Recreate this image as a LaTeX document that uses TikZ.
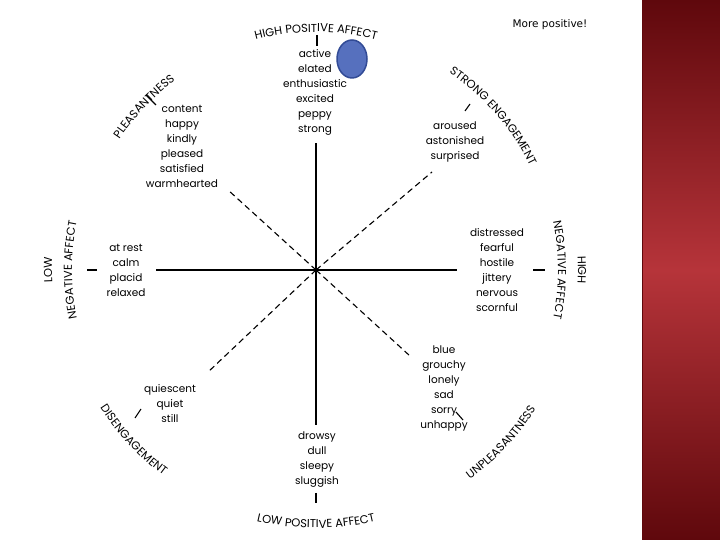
\documentclass[tikz,border=0pt]{standalone}
\usepackage{fontspec}
\setmainfont{Poppins}
\newfontfamily\notefont{DejaVu Sans}
\usetikzlibrary{decorations.text,shapes.geometric}
\definecolor{dotblue}{RGB}{86,112,190}
\definecolor{dotedge}{RGB}{50,75,150}
\definecolor{stripdark}{RGB}{95,8,12}
\definecolor{stripmid}{RGB}{182,52,58}
\newcommand{\capfont}{\fontsize{11.5}{12}\selectfont}
\begin{document}
\begin{tikzpicture}[x=1pt,y=1pt,line width=1.1pt]
    \tikzset{
        wordlist/.style = {align=center,font=\fontsize{10.5}{15}\selectfont,inner sep=0pt},
        axis/.style = {draw=black},
        diag/.style = {draw=black,dash pattern=on 6pt off 4pt},
    }
    \useasboundingbox (0,0) rectangle (720,540);
    \fill[white] (0,0) rectangle (720,540);
    % side strip
    \shade[top color=stripdark,bottom color=stripdark,middle color=stripmid] (642,0) rectangle (720,540);
    \draw[stripdark,line width=1pt] (642.5,0) -- (642.5,540);
    \node[font=\notefont\fontsize{10.5}{12}\selectfont] (note) at (550,515) {More positive!};
    % word lists
    \coordinate (C) at (316,270);
    \node[wordlist] (hpa) at (315,448) {active\\elated\\enthusiastic\\excited\\peppy\\strong};
    \node[wordlist] (se) at (455,398) {aroused\\astonished\\surprised};
    \node[wordlist] (hna) at (497,270) {distressed\\fearful\\hostile\\jittery\\nervous\\scornful};
    \node[wordlist] (unp) at (444,152) {blue\\grouchy\\lonely\\sad\\sorry\\unhappy};
    \node[wordlist] (lpa) at (317,80) {drowsy\\dull\\sleepy\\sluggish};
    \node[wordlist] (dis) at (170,136) {quiescent\\quiet\\still};
    \node[wordlist] (lna) at (126,270) {at rest\\calm\\placid\\relaxed};
    \node[wordlist] (ple) at (182,394) {content\\happy\\kindly\\pleased\\satisfied\\warmhearted};
    % axes
    \coordinate (up) at (316,397);
    \coordinate (down) at (316,115);
    \coordinate (left) at (156,270);
    \coordinate (right) at (457,270);
    \draw[axis] (C) -- (up);
    \draw[axis] (C) -- (down);
    \draw[axis] (C) -- (left);
    \draw[axis] (C) -- (right);
    \coordinate (ul) at (228,350);
    \coordinate (ur) at (432,368);
    \coordinate (dl) at (207,167);
    \coordinate (dr) at (410,184);
    \draw[diag] (C) -- (ul);
    \draw[diag] (C) -- (ur);
    \draw[diag] (C) -- (dl);
    \draw[diag] (C) -- (dr);
    \fill (C) circle (2.2pt);
    % ticks
    \coordinate (t1a) at (317,505); \coordinate (t1b) at (317,494);
    \coordinate (t2a) at (316,47);  \coordinate (t2b) at (316,37);
    \coordinate (t3a) at (87,270);  \coordinate (t3b) at (97,270);
    \coordinate (t4a) at (533,270); \coordinate (t4b) at (545,270);
    \coordinate (t5a) at (146,445); \coordinate (t5b) at (156,435);
    \coordinate (t6a) at (465,429); \coordinate (t6b) at (470,436);
    \coordinate (t7a) at (135,122); \coordinate (t7b) at (141,131);
    \coordinate (t8a) at (456,128); \coordinate (t8b) at (463,120);
    \foreach \a/\b in {t1a/t1b,t2a/t2b,t3a/t3b,t4a/t4b,t5a/t5b,t6a/t6b,t7a/t7b,t8a/t8b}
        \draw[axis] (\a) -- (\b);
    % curved labels
    \path[decorate,decoration={text along path,text align=center,text={|\capfont|HIGH POSITIVE AFFECT}}]
        (C) ++(118:238) arc[start angle=118,end angle=62,radius=238];
    \path[decorate,decoration={text along path,text align=center,text={|\capfont|STRONG ENGAGEMENT}}]
        (C) ++(66:238) arc[start angle=66,end angle=16,radius=238];
    \path[decorate,decoration={text along path,text align=center,text={|\capfont|HIGH}}]
        (C) ++(12:262) arc[start angle=12,end angle=-12,radius=262];
    \path[decorate,decoration={text along path,text align=center,text={|\capfont|NEGATIVE AFFECT}}]
        (C) ++(20:242) arc[start angle=20,end angle=-20,radius=242];
    \path[decorate,decoration={text along path,text align=center,text={|\capfont|PLEASANTNESS}}]
        (C) ++(155:236) arc[start angle=155,end angle=118,radius=236];
    \path[decorate,decoration={text along path,text align=center,text={|\capfont|LOW}}]
        (C) ++(192:264) arc[start angle=192,end angle=168,radius=264];
    \path[decorate,decoration={text along path,text align=center,text={|\capfont|NEGATIVE AFFECT}}]
        (C) ++(200:244) arc[start angle=200,end angle=160,radius=244];
    \path[decorate,decoration={text along path,text align=center,text={|\capfont|DISENGAGEMENT}}]
        (C) ++(203:256) arc[start angle=203,end angle=243,radius=256];
    \path[decorate,decoration={text along path,text align=center,text={|\capfont|LOW POSITIVE AFFECT}}]
        (C) ++(243:258) arc[start angle=243,end angle=297,radius=258];
    \path[decorate,decoration={text along path,text align=center,text={|\capfont|UNPLEASANTNESS}}]
        (C) ++(297:260) arc[start angle=297,end angle=337,radius=260];
    % marker
    \node[ellipse,draw=dotedge,fill=dotblue,line width=1.5pt,minimum width=30pt,minimum height=38pt,inner sep=0pt] (dot) at (352,481) {};
\end{tikzpicture}
\end{document}
